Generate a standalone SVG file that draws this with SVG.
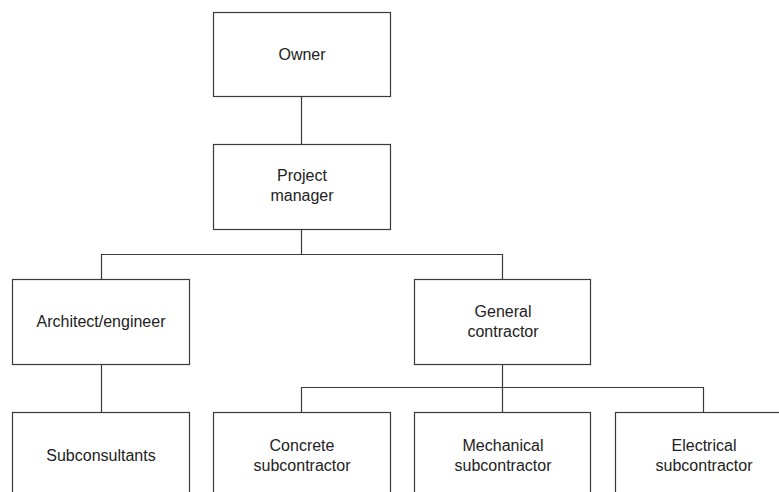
<svg xmlns="http://www.w3.org/2000/svg" width="779" height="492" viewBox="0 0 779 492">
  <style>
    .box { fill: #ffffff; stroke: #3a3a3a; stroke-width: 1.2; }
    .link { fill: none; stroke: #3a3a3a; stroke-width: 1.2; }
    .label { font-family: "Liberation Sans", Arial, sans-serif; font-size: 16px; fill: #222222; text-anchor: middle; }
  </style>
  <rect width="779" height="492" fill="#ffffff"/>

  <g id="connectors">
    <line class="link" x1="301.5" y1="96" x2="301.5" y2="144"/>
    <polyline class="link" points="301.5,229 301.5,254.5"/>
    <polyline class="link" points="101.5,279 101.5,254.5 502.5,254.5 502.5,279"/>
    <line class="link" x1="101.5" y1="364" x2="101.5" y2="412"/>
    <line class="link" x1="502.5" y1="364" x2="502.5" y2="412"/>
    <polyline class="link" points="301.5,412 301.5,387.5 703.5,387.5 703.5,412"/>
  </g>

  <g id="owner">
    <rect class="box" x="213.5" y="12.5" width="177" height="84"/>
    <text class="label" x="302" y="60">Owner</text>
  </g>

  <g id="project-manager">
    <rect class="box" x="213.5" y="144.5" width="177" height="85"/>
    <text class="label" x="302" y="181">Project</text>
    <text class="label" x="302" y="201">manager</text>
  </g>

  <g id="architect-engineer">
    <rect class="box" x="12.5" y="279.5" width="177" height="85"/>
    <text class="label" x="101" y="327">Architect/engineer</text>
  </g>

  <g id="general-contractor">
    <rect class="box" x="414.5" y="279.5" width="176" height="85"/>
    <text class="label" x="503" y="317">General</text>
    <text class="label" x="503" y="337">contractor</text>
  </g>

  <g id="subconsultants">
    <rect class="box" x="12.5" y="412.5" width="177" height="90"/>
    <text class="label" x="101" y="461">Subconsultants</text>
  </g>

  <g id="concrete-subcontractor">
    <rect class="box" x="213.5" y="412.5" width="177" height="90"/>
    <text class="label" x="302" y="451">Concrete</text>
    <text class="label" x="302" y="471">subcontractor</text>
  </g>

  <g id="mechanical-subcontractor">
    <rect class="box" x="414.5" y="412.5" width="176" height="90"/>
    <text class="label" x="503" y="451">Mechanical</text>
    <text class="label" x="503" y="471">subcontractor</text>
  </g>

  <g id="electrical-subcontractor">
    <rect class="box" x="615.5" y="412.5" width="177" height="90"/>
    <text class="label" x="704" y="451">Electrical</text>
    <text class="label" x="704" y="471">subcontractor</text>
  </g>
</svg>
